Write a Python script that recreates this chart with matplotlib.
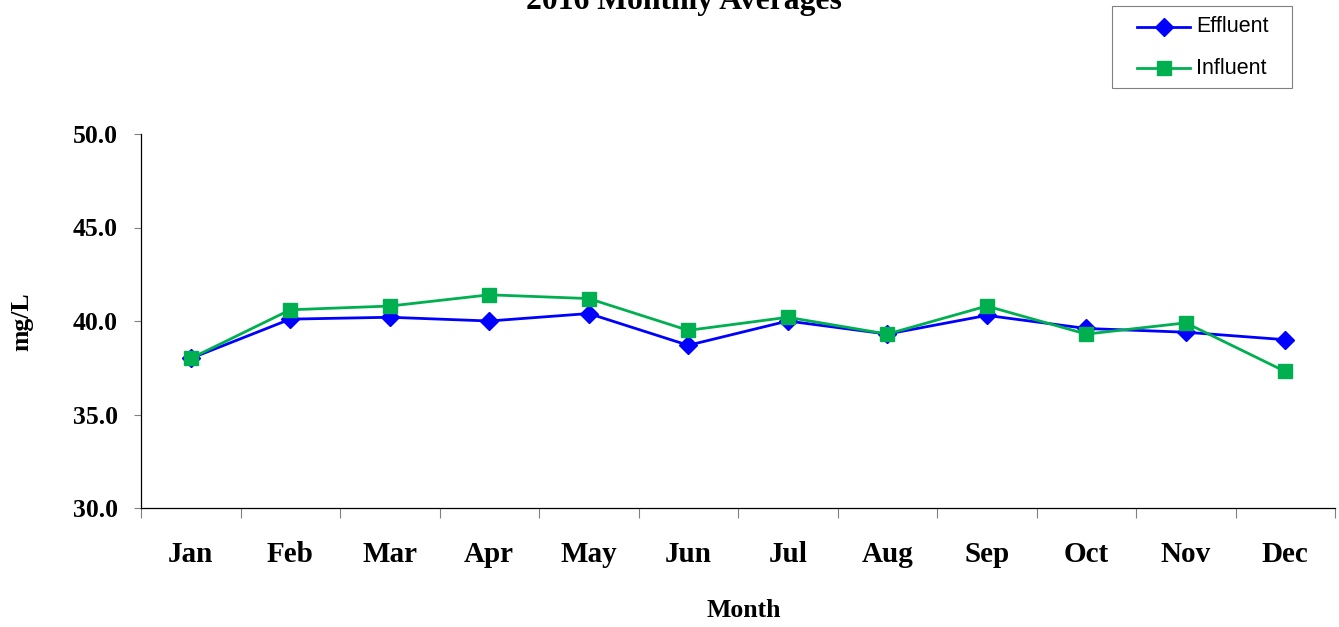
import matplotlib
matplotlib.use("Agg")
import matplotlib.pyplot as plt
from matplotlib.ticker import FixedLocator, NullFormatter
from matplotlib.lines import Line2D
from matplotlib.patches import Rectangle

months = ["Jan", "Feb", "Mar", "Apr", "May", "Jun", "Jul", "Aug", "Sep", "Oct", "Nov", "Dec"]
effluent = [38.0, 40.1, 40.2, 40.0, 40.4, 38.7, 40.0, 39.3, 40.3, 39.6, 39.4, 39.0]
influent = [38.0, 40.6, 40.8, 41.4, 41.2, 39.5, 40.2, 39.3, 40.8, 39.3, 39.9, 37.3]
yticks = [30.0, 35.0, 40.0, 45.0, 50.0]
series_names = ["Effluent", "Influent"]

W, H = 1339, 627
fig = plt.figure(figsize=(W / 100, H / 100), dpi=100)
ax = fig.add_axes([141 / W, 1 - 508 / H, (1335 - 141) / W, (508 - 134) / H])

serif = "Liberation Serif"
sans = "Liberation Sans"
c_eff = "#0000FF"
c_inf = "#00B050"

x = list(range(len(months)))
ax.plot(x, effluent, color=c_eff, lw=2.0, marker="D", ms=9, label=series_names[0], zorder=3)
ax.plot(x, influent, color=c_inf, lw=2.0, marker="s", ms=9.5, label=series_names[1], zorder=4)

ax.set_xlim(-0.5, len(months) - 0.5)
ax.set_ylim(30, 50)
ax.set_yticks(yticks)
ax.set_yticklabels([f"{v:.1f}" for v in yticks], fontfamily=serif, fontweight="bold", fontsize=18.5)
ax.set_xticks(x)
ax.set_xticklabels(months, fontfamily=serif, fontweight="bold", fontsize=21)
ax.tick_params(axis="x", which="major", length=0, pad=23.5)
ax.xaxis.set_minor_locator(FixedLocator([i + 0.5 for i in range(-1, len(months))]))
ax.xaxis.set_minor_formatter(NullFormatter())
ax.tick_params(axis="x", which="minor", length=7, width=0.8, color="#808080", direction="out")
ax.tick_params(axis="y", which="major", length=5, width=0.8, color="#808080", direction="out", pad=11.5)

for s in ["top", "right"]:
    ax.spines[s].set_visible(False)
ax.spines["left"].set_linewidth(0.9)
ax.spines["bottom"].set_linewidth(0.9)

fig.text(683.5 / W, 1 - 9 / H, "2016 Monthly Averages", ha="center", va="baseline",
         fontfamily=serif, fontweight="bold", fontsize=22.8)
fig.text(743.5 / W, 1 - 617 / H, "Month", ha="center", va="baseline",
         fontfamily=serif, fontweight="bold", fontsize=18.5)
fig.text(22 / W, 1 - 322 / H, "mg/L", ha="center", va="center", rotation=90,
         fontfamily=serif, fontweight="bold", fontsize=18.5)

# legend box (drawn in figure pixels)
def fx(px):
    return px / W

def fy(py):
    return 1 - py / H

fig.patches.append(Rectangle((fx(1112), fy(88)), fx(1292) - fx(1112), fy(6) - fy(88),
                             transform=fig.transFigure, facecolor="white",
                             edgecolor="#808080", lw=0.8, zorder=5))
rows = [(27, c_eff, "D", 9), (68, c_inf, "s", 9.5)]
for (yy, col, mk, ms), name in zip(rows, series_names):
    fig.lines.append(Line2D([fx(1137), fx(1190)], [fy(yy), fy(yy)], transform=fig.transFigure,
                            color=col, lw=2.0, zorder=6))
    fig.lines.append(Line2D([fx(1163.5)], [fy(yy)], transform=fig.transFigure, color=col,
                            marker=mk, ms=ms, lw=0, zorder=7))
    fig.text(fx(1196), fy(yy), name, ha="left", va="center", fontfamily=sans,
             fontsize=15.5, zorder=8)

fig.savefig("out.png", dpi=100)
